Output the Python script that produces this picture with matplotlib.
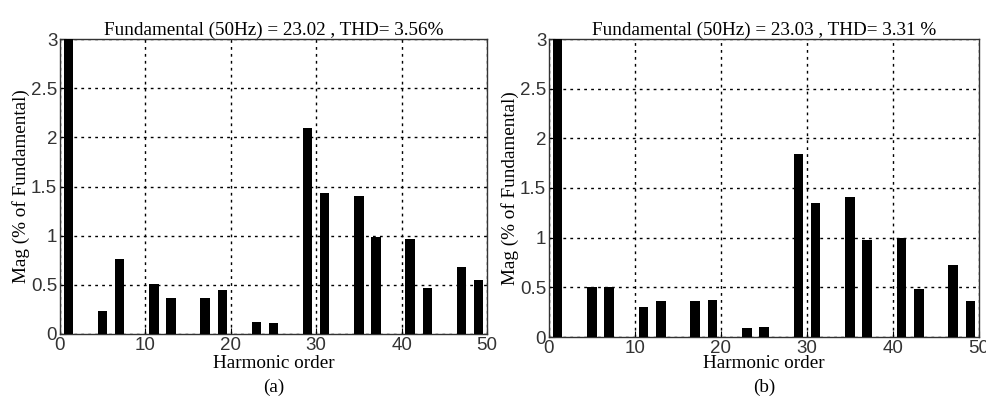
import numpy as np
import matplotlib.pyplot as plt

# Harmonic orders (odd) and magnitudes in % of fundamental
orders = [1, 5, 7, 11, 13, 17, 19, 23, 25, 29, 31, 35, 37, 41, 43, 47, 49]
mag_a = [100, 0.23, 0.76, 0.51, 0.37, 0.37, 0.45, 0.12, 0.11, 2.10, 1.43,
         1.40, 0.99, 0.97, 0.47, 0.68, 0.55]
mag_b = [100, 0.50, 0.50, 0.30, 0.36, 0.36, 0.37, 0.09, 0.10, 1.84, 1.35,
         1.41, 0.98, 1.00, 0.48, 0.72, 0.36]
titles = ['Fundamental (50Hz) = 23.02 , THD= 3.56%',
          'Fundamental (50Hz) = 23.03 , THD= 3.31 %']
panel_labels = ['(a)', '(b)']

serif = ['Liberation Serif', 'DejaVu Serif']

fig = plt.figure(figsize=(9.87, 3.96), dpi=100)
W, H = 987, 396
boxes = [(60, 487, 39, 334), (549, 979, 39, 337)]

for (x0, x1, y0, y1), mag, title, lab in zip(boxes, [mag_a, mag_b], titles, panel_labels):
    ax = fig.add_axes([x0 / W, 1 - y1 / H, (x1 - x0) / W, (y1 - y0) / H])
    ax.bar(orders, mag, width=1.1, color='black', zorder=3)
    ax.set_xlim(0, 50)
    ax.set_ylim(0, 3)
    ax.set_xticks(np.arange(0, 51, 10))
    ax.set_yticks(np.arange(0, 3.01, 0.5))
    ax.set_yticklabels(['0', '0.5', '1', '1.5', '2', '2.5', '3'])
    ax.tick_params(direction='in', length=4, labelsize=13.5, pad=2, colors='black')
    for t in ax.get_xticklabels() + ax.get_yticklabels():
        t.set_family(['Liberation Sans', 'DejaVu Sans'])
        t.set_color('#333333')
    ax.grid(True, linestyle=(0, (2, 3)), color='black', linewidth=1.0, zorder=0)
    for s in ax.spines.values():
        s.set_linewidth(1.0)
        s.set_color('#333333')
    ax.set_title(title, family=serif, fontsize=13.8, pad=3)
    ax.set_ylabel('Mag (% of Fundamental)', family=serif, fontsize=13.8, labelpad=1)
    fig.text((x0 + x1) / 2 / W, 1 - 364 / H, 'Harmonic order', family=serif,
             fontsize=13.8, ha='center', va='center')
    fig.text((x0 + x1) / 2 / W, 1 - 387 / H, lab, family=serif, fontsize=13.8,
             ha='center', va='center')

fig.savefig('out.png', dpi=100)
